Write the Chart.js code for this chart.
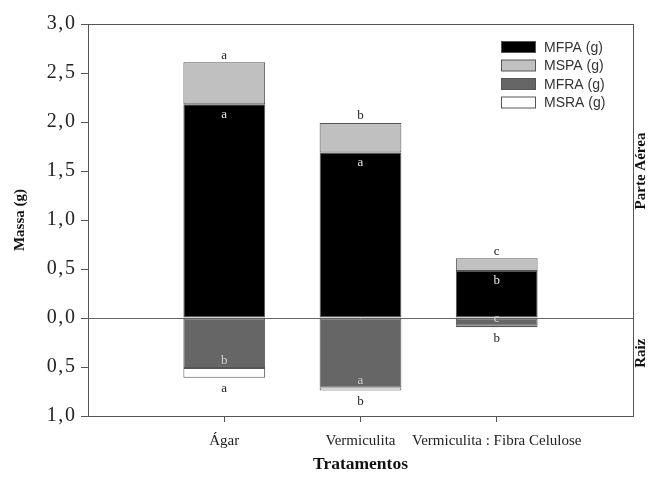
<!DOCTYPE html>
<html>
<head>
<meta charset="utf-8">
<script src="https://cdn.jsdelivr.net/npm/chart.js@4.4.1/dist/chart.umd.min.js"></script>
<style>
  html, body { margin: 0; padding: 0; background: #fff; }
  #wrap { width: 648px; height: 479px; }
</style>
</head>
<body>
<div id="wrap"><canvas id="chart"></canvas></div>
<script>
// categories (blank slots at both ends keep the bars spaced like the original)
const tratamentos = ['', 'Ágar', 'Vermiculita', 'Vermiculita : Fibra Celulose', ''];

// parte aérea (positive) and raiz (negative) masses, g
const mfpa = [null, 2.18, 1.69, 0.48, null];
const mspa = [null, 0.43, 0.30, 0.13, null];
const mfra = [null, -0.51, -0.71, -0.08, null];
const msra = [null, -0.10, -0.03, -0.015, null];

// significance letters
const letrasMFPA = [null, 'a', 'a', 'b', null];
const letrasMSPA = [null, 'a', 'b', 'c', null];
const letrasMFRA = [null, 'b', 'a', 'c', null];
const letrasMSRA = [null, 'a', 'b', 'b', null];

const serif = '"Liberation Serif", "Times New Roman", serif';
const sans = '"Liberation Sans", Arial, sans-serif';

const frame = {
  id: 'frame',
  beforeDatasetsDraw(chart) {
    const { ctx, chartArea: a } = chart;
    ctx.save();
    ctx.strokeStyle = '#555';
    ctx.lineWidth = 1;
    ctx.strokeRect(Math.round(a.left) + 0.5, Math.round(a.top) + 0.5,
      Math.round(a.right - a.left), Math.round(a.bottom - a.top));
    ctx.restore();
  }
};

const extras = {
  id: 'extras',
  afterDatasetsDraw(chart) {
    const { ctx, chartArea: a } = chart;
    ctx.save();
    ctx.font = '13px ' + serif;
    ctx.textAlign = 'center';
    ctx.textBaseline = 'middle';
    const sets = [
      [letrasMFPA, 0, 10, '#e8e8e8'],
      [letrasMSPA, 1, -7, '#222'],
      [letrasMFRA, 2, -7, '#d0d0d0'],
      [letrasMSRA, 3, 11, '#222']
    ];
    sets.forEach(([letras, di, dy, col]) => {
      const meta = chart.getDatasetMeta(di);
      letras.forEach((l, j) => {
        if (!l) return;
        const el = meta.data[j];
        ctx.fillStyle = col;
        ctx.fillText(l, el.x, el.y + dy);
      });
    });

    // legend
    ctx.font = '14px ' + sans;
    ctx.textAlign = 'left';
    chart.data.datasets.forEach((ds, i) => {
      const y = 47 + i * 18.5;
      ctx.fillStyle = ds.backgroundColor;
      ctx.fillRect(501.5, y - 5.5, 34, 11);
      ctx.strokeStyle = '#555';
      ctx.lineWidth = 1;
      ctx.strokeRect(501.5, y - 5.5, 34, 11);
      ctx.fillStyle = '#333';
      ctx.fillText(ds.label, 544, y + 1);
    });

    // right side labels
    const yr = chart.scales.y;
    ctx.font = 'bold 15px ' + serif;
    ctx.fillStyle = '#111';
    ctx.textAlign = 'center';
    [['Parte Aérea', 1.5], ['Raiz', -0.36]].forEach(([t, v]) => {
      ctx.save();
      ctx.translate(a.right + 8, yr.getPixelForValue(v));
      ctx.rotate(-Math.PI / 2);
      ctx.fillText(t, 0, 0);
      ctx.restore();
    });
    ctx.restore();
  }
};

new Chart(document.getElementById('chart'), {
  type: 'bar',
  data: {
    labels: tratamentos,
    datasets: [
      { label: 'MFPA (g)', data: mfpa, backgroundColor: '#000000' },
      { label: 'MSPA (g)', data: mspa, backgroundColor: '#c0c0c0' },
      { label: 'MFRA (g)', data: mfra, backgroundColor: '#666666' },
      { label: 'MSRA (g)', data: msra, backgroundColor: '#ffffff' }
    ].map(d => Object.assign(d, {
      borderColor: '#555',
      borderWidth: 1,
      borderSkipped: false,
      barPercentage: 0.6,
      categoryPercentage: 1.0
    }))
  },
  options: {
    responsive: true,
    maintainAspectRatio: false,
    animation: false,
    layout: { padding: { top: 24, left: 7, right: 0, bottom: 0 } },
    plugins: {
      legend: { display: false },
      tooltip: { enabled: false }
    },
    scales: {
      x: {
        stacked: true,
        offset: false,
        grid: {
          offset: false,
          drawOnChartArea: false,
          tickLength: 6,
          color: c => (c.index === 0 || c.index === 4) ? 'rgba(0,0,0,0)' : '#555'
        },
        border: { display: false },
        ticks: {
          autoSkip: false,
          maxRotation: 0,
          padding: 10,
          color: '#222',
          font: { family: serif, size: 15 }
        },
        title: {
          display: true,
          text: 'Tratamentos',
          color: '#111',
          font: { family: serif, size: 17.5, weight: 'bold' },
          padding: { top: 8 }
        },
        afterFit: s => { s.height = 63; }
      },
      y: {
        stacked: true,
        min: -1,
        max: 3,
        grid: {
          tickLength: 7,
          color: c => c.tick && c.tick.value === 0 ? '#666' : 'rgba(0,0,0,0)',
          tickColor: '#555'
        },
        border: { display: false },
        ticks: {
          stepSize: 0.5,
          padding: 6,
          color: '#222',
          font: { family: serif, size: 20 },
          callback: v => Math.abs(v).toFixed(1).replace('.', '\u200a,\u200a')
        },
        title: {
          display: true,
          text: 'Massa (g)',
          color: '#111',
          font: { family: serif, size: 15, weight: 'bold' },
          padding: { bottom: 4 }
        },
        afterFit: s => { s.width = 81; }
      },
      y2: {
        position: 'right',
        min: -1,
        max: 3,
        grid: { display: false },
        border: { display: false },
        ticks: { display: false },
        afterFit: s => { s.width = 15; }
      }
    }
  },
  plugins: [frame, extras]
});
</script>
</body>
</html>
